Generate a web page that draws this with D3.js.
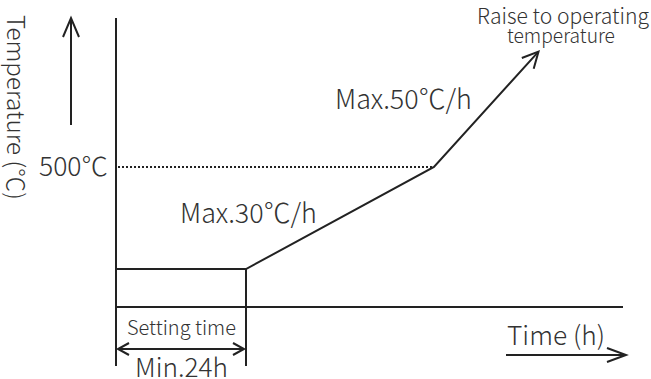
<!DOCTYPE html>
<html>
<head>
<meta charset="utf-8">
<script src="https://cdn.jsdelivr.net/npm/d3@7"></script>
<style>
  html, body { margin: 0; padding: 0; background: #fff; }
  svg { display: block; }
  text { font-family: "Noto Sans CJK JP", "Open Sans", sans-serif; font-weight: 300; fill: #333; }
</style>
</head>
<body>
<div id="chart"></div>
<script>
// ---- data (schematic heating profile) ----
const profileTime = [0, 24, 58.7, 78];        // hours (schematic)
const profileTemp = [150, 150, 500, 895];     // °C (schematic)
const refTemp = 500;
const holdTime = 24;
const rateLabels = ["Max.30℃/h", "Max.50℃/h"];
const yTickLabels = ["500℃"];
const axisTitles = ["Temperature (℃)", "Time (h)"];
const holdLabels = ["Setting time", "Min.24h"];
const endLabel = ["Raise to operating", "temperature"];

const W = 651, H = 379;
const svg = d3.select("#chart").append("svg").attr("width", W).attr("height", H);

const x = d3.scaleLinear().domain([0, 93.6]).range([116, 623]);
const y = d3.scaleLinear().domain([20, 1010]).range([307, 18]);

const ink = "#222";

// axes as plain lines
svg.append("line").attr("x1", x(0)).attr("x2", x(0)).attr("y1", y(1010)).attr("y2", y(20))
  .attr("stroke", ink).attr("stroke-width", 2);
svg.append("line").attr("x1", x(0)).attr("x2", x(93.6)).attr("y1", y(20)).attr("y2", y(20))
  .attr("stroke", ink).attr("stroke-width", 2);

// dotted reference at 500
svg.append("line").attr("x1", x(0) + 2).attr("x2", x(profileTime[2]) - 2)
  .attr("y1", y(refTemp)).attr("y2", y(refTemp))
  .attr("stroke", ink).attr("stroke-width", 2).attr("stroke-dasharray", "2,2");

// profile line
const pts = profileTime.map((t, i) => [x(t), y(profileTemp[i])]);
svg.append("path").attr("d", d3.line()(pts)).attr("fill", "none")
  .attr("stroke", ink).attr("stroke-width", 2).attr("stroke-linejoin", "miter");

// chevron helper
function chevron(tx, ty, ang, len, half) {
  const bx = tx - len * Math.cos(ang), by = ty - len * Math.sin(ang);
  const px = -Math.sin(ang) * half, py = Math.cos(ang) * half;
  svg.append("path")
    .attr("d", `M${bx + px},${by + py}L${tx},${ty}L${bx - px},${by - py}`)
    .attr("fill", "none").attr("stroke", ink).attr("stroke-width", 2);
}
const a = pts[2], b = pts[3];
chevron(b[0], b[1], Math.atan2(b[1] - a[1], b[0] - a[0]), 16, 8);

// vertical box lines of hold period
svg.append("line").attr("x1", x(holdTime)).attr("x2", x(holdTime))
  .attr("y1", y(profileTemp[1])).attr("y2", 366).attr("stroke", ink).attr("stroke-width", 2);
svg.append("line").attr("x1", x(0)).attr("x2", x(0))
  .attr("y1", y(20)).attr("y2", 366).attr("stroke", ink).attr("stroke-width", 2);

// double arrow for setting time
svg.append("line").attr("x1", x(0) + 3).attr("x2", x(holdTime) - 3).attr("y1", 349).attr("y2", 349)
  .attr("stroke", ink).attr("stroke-width", 2);
chevron(x(0) + 2, 349, Math.PI, 11, 6);
chevron(x(holdTime) - 2, 349, 0, 11, 6);

// temperature arrow
svg.append("line").attr("x1", 71).attr("x2", 71).attr("y1", 125).attr("y2", 19)
  .attr("stroke", ink).attr("stroke-width", 2);
chevron(71, 18, -Math.PI / 2, 19, 8);

// time arrow
svg.append("line").attr("x1", 506).attr("x2", 625).attr("y1", 355).attr("y2", 355)
  .attr("stroke", ink).attr("stroke-width", 2);
chevron(626, 355, 0, 19, 7);

// ---- texts ----
function label(txt, tx, ty, size, anchor, target) {
  const t = svg.append("text").attr("x", tx).attr("y", ty)
    .attr("font-size", size).attr("text-anchor", anchor || "start").text(txt);
  if (target) {
    const w = t.node().getComputedTextLength();
    t.attr("font-size", size * target / w);
  }
  return t;
}
label(yTickLabels[0], 108, 176, 22, "end", 69);
label(rateLabels[0], 180, 223, 22, "start", 137);
label(rateLabels[1], 335, 109, 22, "start", 137);
label(endLabel[0], 563, 24, 16, "middle", 172);
label(endLabel[1], 561, 43, 16, "middle", 108);
label(holdLabels[0], 127, 335, 17, "start", 109);
label(holdLabels[1], 135, 377, 23, "start", 93);
label(axisTitles[1], 507, 345, 22, "start", 98);

const tt = svg.append("text").attr("transform", "translate(7,15) rotate(90)")
  .attr("font-size", 18).text(axisTitles[0]);
const tw = tt.node().getComputedTextLength();
tt.attr("font-size", 18 * 185 / tw);
</script>
</body>
</html>
